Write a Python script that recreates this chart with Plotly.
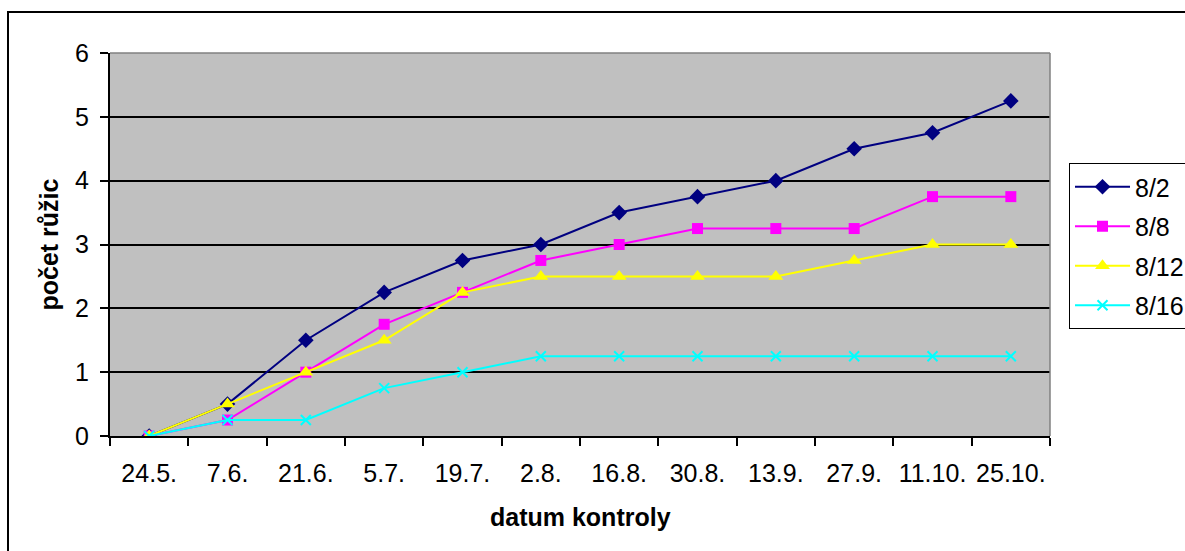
import plotly.graph_objects as go

# Check dates (x categories)
dates = ["24.5.", "7.6.", "21.6.", "5.7.", "19.7.", "2.8.", "16.8.",
         "30.8.", "13.9.", "27.9.", "11.10.", "25.10."]

# Mean number of rosettes per variant
s_8_2 = [0, 0.5, 1.5, 2.25, 2.75, 3, 3.5, 3.75, 4, 4.5, 4.75, 5.25]
s_8_8 = [0, 0.25, 1, 1.75, 2.25, 2.75, 3, 3.25, 3.25, 3.25, 3.75, 3.75]
s_8_12 = [0, 0.5, 1, 1.5, 2.25, 2.5, 2.5, 2.5, 2.5, 2.75, 3, 3]
s_8_16 = [0, 0.25, 0.25, 0.75, 1, 1.25, 1.25, 1.25, 1.25, 1.25, 1.25, 1.25]

y_ticks = [0, 1, 2, 3, 4, 5, 6]

FONT = "Liberation Sans, Arial, sans-serif"
FS = 25

series = [
    ("8/2", s_8_2, "#000080", "diamond", 12, None),
    ("8/8", s_8_8, "#FF00FF", "square", 11, None),
    ("8/12", s_8_12, "#FFFF00", "triangle-up", 13, None),
    ("8/16", s_8_16, "#00FFFF", "x-thin", 10, 2),
]

fig = go.Figure()
for name, vals, color, symbol, size, lw in series:
    marker = dict(symbol=symbol, size=size, color=color)
    if lw:
        marker["line"] = dict(color=color, width=lw)
    else:
        marker["line"] = dict(width=0)
    fig.add_trace(go.Scatter(
        x=dates, y=vals, name=name, legendgroup=name,
        mode="lines+markers",
        line=dict(color=color, width=2),
        marker=marker,
    ))

W, H = 1185, 551
L, R, T, B = 110, 135, 53, 115

fig.update_layout(
    width=W, height=H,
    margin=dict(l=L, r=R, t=T, b=B, pad=0, autoexpand=False),
    paper_bgcolor="white",
    plot_bgcolor="#C0C0C0",
    font=dict(family=FONT, size=FS, color="black"),
    showlegend=True,
    legend=dict(
        x=(1069 - L) / (W - L - R), y=(H - B - 163) / (H - T - B),
        xanchor="left", yanchor="top",
        bordercolor="black", borderwidth=1, bgcolor="white",
        font=dict(family=FONT, size=FS, color="black"),
        tracegroupgap=4, itemwidth=55,
    ),
    xaxis=dict(
        type="category", categoryorder="array", categoryarray=dates,
        tickson="boundaries", ticks="outside", ticklen=8, tickwidth=2,
        tickcolor="black", showline=True, linecolor="black", linewidth=2,
        showgrid=False, zeroline=False, tickangle=0,
        tickfont=dict(family=FONT, size=FS, color="black"),
        ticklabelstandoff=14,
        range=[-0.5, len(dates) - 0.5],
    ),
    yaxis=dict(
        range=[0, 6], tickvals=y_ticks, ticks="outside", ticklen=8,
        tickwidth=2, tickcolor="black", showline=True, linecolor="black",
        linewidth=2, showgrid=True, gridcolor="black", gridwidth=1.5,
        zeroline=False,
        tickfont=dict(family=FONT, size=FS, color="black"),
        ticklabelstandoff=6,
    ),
    shapes=[
        # plot area border (top/right in grey)
        dict(type="line", xref="paper", yref="paper", x0=0, x1=1, y0=1, y1=1,
             line=dict(color="#808080", width=1.5), layer="above"),
        dict(type="line", xref="paper", yref="paper", x0=1, x1=1, y0=0, y1=1,
             line=dict(color="#808080", width=1.5), layer="above"),
        # outer chart frame
        dict(type="rect", xref="paper", yref="paper",
             x0=(8 - L) / (W - L - R), x1=1.6,
             y0=-0.6, y1=1 + (T - 12) / (H - T - B),
             line=dict(color="black", width=2), fillcolor="rgba(0,0,0,0)",
             layer="below"),
    ],
    annotations=[
        dict(text="<b>datum kontroly</b>", xref="paper", yref="paper",
             x=0.5, y=-(517 - (H - B)) / (H - T - B),
             xanchor="center", yanchor="middle", showarrow=False,
             font=dict(family=FONT, size=FS, color="black")),
        dict(text="<b>počet růžic</b>", xref="paper", yref="paper",
             x=-(L - 48) / (W - L - R), y=0.5, textangle=-90,
             xanchor="center", yanchor="middle", showarrow=False,
             font=dict(family=FONT, size=FS, color="black")),
    ],
)

fig.write_html("out.html")
